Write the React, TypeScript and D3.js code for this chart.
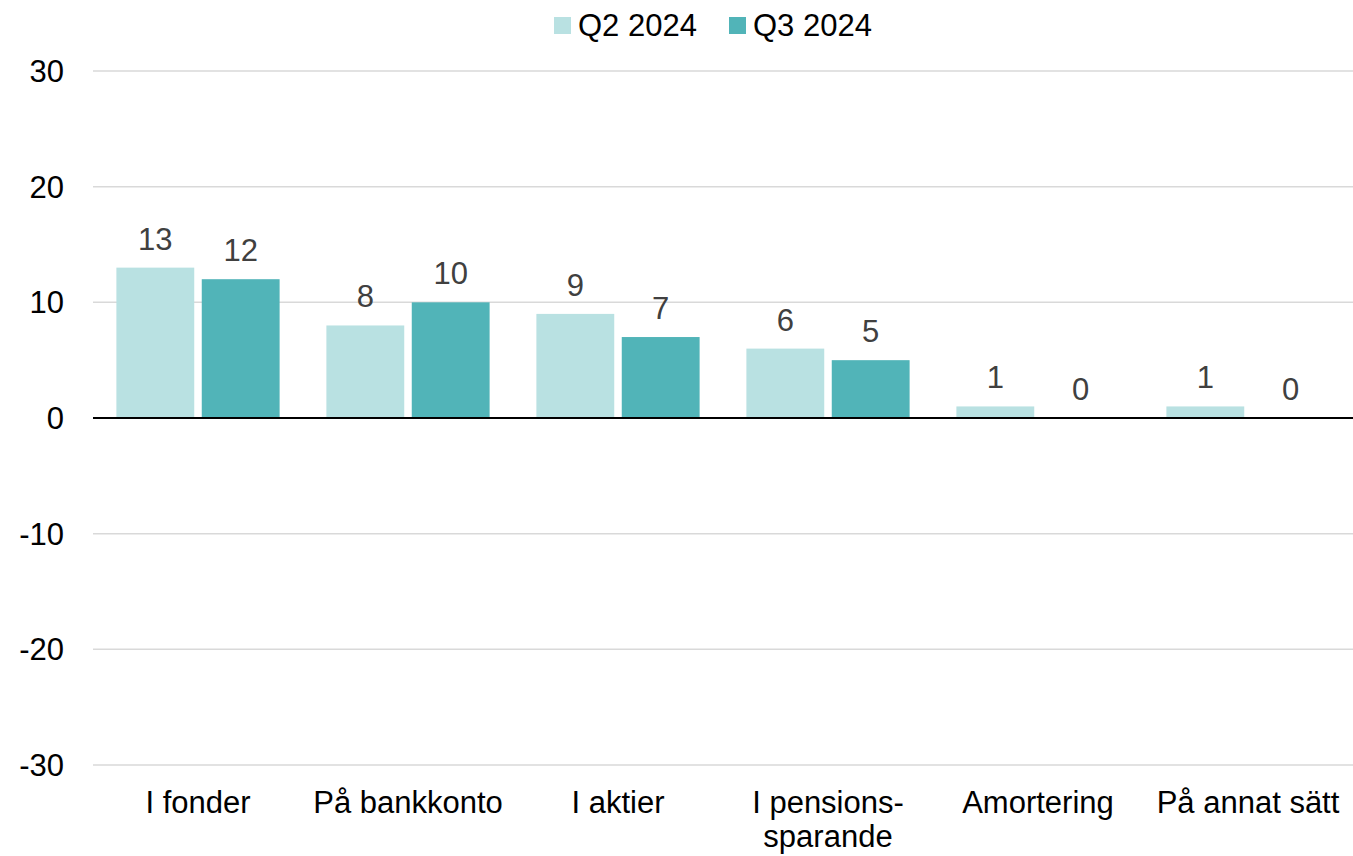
import React, { useRef, useEffect } from 'react';
import * as d3 from 'd3';

const categories = ['I fonder', 'På bankkonto', 'I aktier', 'I pensions-\nsparande', 'Amortering', 'På annat sätt'];
const seriesNames = ['Q2 2024', 'Q3 2024'];
const q2Values = [13, 8, 9, 6, 1, 1];
const q3Values = [12, 10, 7, 5, 0, 0];
const yTicks = [-30, -20, -10, 0, 10, 20, 30];
const colors = ['#b9e1e2', '#51b4b8'];

const width = 1353;
const height = 856;

const App: React.FC = () => {
  const svgRef = useRef<SVGSVGElement>(null);

  useEffect(() => {
    if (!svgRef.current) return;
    const svg = d3.select(svgRef.current);
    svg.selectAll("*").remove();

    const font = "'Liberation Sans', Arial, sans-serif";
    const plotLeft = 93;
    const plotRight = 1353;

    const x0 = d3.scaleBand()
      .domain(categories)
      .range([plotLeft, plotRight])
      .padding(0);

    const x1 = d3.scaleBand()
      .domain(seriesNames)
      .range([0, x0.bandwidth()])
      .paddingInner(0.088)
      .paddingOuter(0.274);

    const y = d3.scaleLinear()
      .domain([-30, 30])
      .range([765, 71]);

    // Grid lines
    svg.append("g")
      .selectAll("line")
      .data(yTicks.filter(t => t !== 0))
      .enter().append("line")
      .attr("x1", plotLeft).attr("x2", plotRight)
      .attr("y1", d => y(d)).attr("y2", d => y(d))
      .attr("stroke", "#d9d9d9")
      .attr("stroke-width", 1.5);

    // Y tick labels
    svg.append("g")
      .selectAll("text")
      .data(yTicks)
      .enter().append("text")
      .attr("x", 64)
      .attr("y", d => y(d) + 11)
      .attr("text-anchor", "end")
      .attr("font-family", font)
      .attr("font-size", "31px")
      .attr("fill", "#000")
      .text(d => d);

    // Bars
    const series = [q2Values, q3Values];
    series.forEach((vals, si) => {
      const g = svg.append("g");
      g.selectAll("rect")
        .data(vals)
        .enter().append("rect")
        .attr("x", (d, i) => (x0(categories[i]) || 0) + (x1(seriesNames[si]) || 0))
        .attr("y", d => y(Math.max(0, d)))
        .attr("width", x1.bandwidth())
        .attr("height", d => Math.abs(y(d) - y(0)))
        .attr("fill", colors[si]);

      g.selectAll("text")
        .data(vals)
        .enter().append("text")
        .attr("x", (d, i) => (x0(categories[i]) || 0) + (x1(seriesNames[si]) || 0) + x1.bandwidth() / 2)
        .attr("y", d => y(Math.max(0, d)) - 18)
        .attr("text-anchor", "middle")
        .attr("font-family", font)
        .attr("font-size", "31px")
        .attr("fill", "#404040")
        .text(d => d);
    });

    // Zero line
    svg.append("line")
      .attr("x1", plotLeft).attr("x2", plotRight)
      .attr("y1", y(0)).attr("y2", y(0))
      .attr("stroke", "#000")
      .attr("stroke-width", 2);

    // Category labels
    const catG = svg.append("g");
    categories.forEach(c => {
      const t = catG.append("text")
        .attr("x", (x0(c) || 0) + x0.bandwidth() / 2)
        .attr("y", 813)
        .attr("text-anchor", "middle")
        .attr("font-family", font)
        .attr("font-size", "31px")
        .attr("fill", "#000");
      c.split("\n").forEach((line, li) => {
        t.append("tspan")
          .attr("x", (x0(c) || 0) + x0.bandwidth() / 2)
          .attr("dy", li === 0 ? 0 : 34)
          .text(line);
      });
    });

    // Legend
    const legendX = [554, 729];
    seriesNames.forEach((name, i) => {
      svg.append("rect")
        .attr("x", legendX[i]).attr("y", 17)
        .attr("width", 17).attr("height", 17)
        .attr("fill", colors[i]);
      svg.append("text")
        .attr("x", legendX[i] + 24)
        .attr("y", 36)
        .attr("font-family", font)
        .attr("font-size", "31px")
        .attr("fill", "#000")
        .text(name);
    });
  }, []);

  return (
    <svg
      ref={svgRef}
      width={width}
      height={height}
      style={{ position: 'absolute', left: 0, top: 0, background: '#fff' }}
    />
  );
};

export default App;
